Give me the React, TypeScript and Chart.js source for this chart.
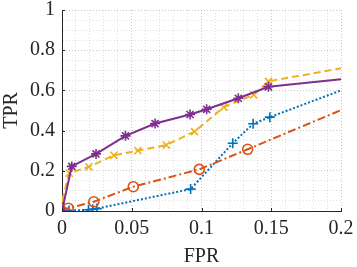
import React, { useEffect, useRef } from "react";
import { Chart, registerables } from "chart.js";

Chart.register(...registerables);

const xTickLabels = ["0", "0.05", "0.1", "0.15", "0.2"];
const yTickLabels = ["0", "0.2", "0.4", "0.6", "0.8", "1"];

const fprPurple = [0, 0.007, 0.0244, 0.0455, 0.0667, 0.0918, 0.1037, 0.1264, 0.148, 0.2];
const tprPurple = [0, 0.222, 0.284, 0.374, 0.435, 0.48, 0.506, 0.561, 0.618, 0.656];

const fprYellow = [0, 0, 0.0052, 0.0193, 0.0372, 0.0544, 0.0748, 0.095, 0.116, 0.1374, 0.148, 0.2];
const tprYellow = [0, 0.05, 0.188, 0.22, 0.277, 0.3, 0.328, 0.395, 0.517, 0.578, 0.645, 0.71];

const fprRed = [0, 0.0045, 0.0228, 0.0511, 0.0984, 0.1331, 0.2];
const tprRed = [0, 0.014, 0.046, 0.121, 0.207, 0.307, 0.502];

const fprBlue = [0, 0.005, 0.019, 0.022, 0.025, 0.0922, 0.1224, 0.137, 0.149, 0.2];
const tprBlue = [0, 0.002, 0.006, 0.009, 0.012, 0.109, 0.337, 0.434, 0.467, 0.6];

const FONT = "'Liberation Serif', 'Times New Roman', serif";
const AX = "#262626";

const pts = (xs: number[], ys: number[]) => xs.map((x, i) => ({ x, y: ys[i] }));

function ds(label: string, xs: number[], ys: number[], color: string, style: string, dash: number[]) {
  const last = xs.length - 1;
  return {
    label,
    data: pts(xs, ys),
    borderColor: color,
    backgroundColor: "rgba(0,0,0,0)",
    borderWidth: 2,
    borderDash: dash,
    pointStyle: style,
    pointRadius: (c: any) => (c.dataIndex === last ? 0 : 5),
    pointBorderColor: color,
    pointBackgroundColor: "rgba(0,0,0,0)",
    pointBorderWidth: 1.6,
    showLine: true,
    tension: 0,
  };
}

const inwardTicks = {
  id: "inwardTicks",
  afterDraw(chart: any) {
    const { ctx, chartArea, scales } = chart;
    ctx.save();
    ctx.strokeStyle = AX;
    ctx.lineWidth = 1;
    ctx.beginPath();
    xTickLabels.forEach((t) => {
      const px = Math.round(scales.x.getPixelForValue(parseFloat(t))) + 0.5;
      ctx.moveTo(px, chartArea.bottom);
      ctx.lineTo(px, chartArea.bottom - 3);
    });
    yTickLabels.forEach((t) => {
      const py = Math.round(scales.y.getPixelForValue(parseFloat(t))) + 0.5;
      ctx.moveTo(chartArea.left, py);
      ctx.lineTo(chartArea.left + 3, py);
    });
    ctx.stroke();
    ctx.restore();
  },
};

export default function App() {
  const ref = useRef<HTMLCanvasElement>(null);
  useEffect(() => {
    document.body.style.margin = "0";
    const isMajor = (v: number, step: number) => Math.abs(v / step - Math.round(v / step)) < 1e-6;
    const chart = new Chart(ref.current!, {
      type: "line",
      data: {
        datasets: [
          ds("Purple", fprPurple, tprPurple, "#7E2F8E", "star", []),
          ds("Yellow", fprYellow, tprYellow, "#EDB120", "crossRot", [7, 4]),
          ds("Red", fprRed, tprRed, "#D95319", "circle", [8, 3, 2, 3]),
          ds("Blue", fprBlue, tprBlue, "#0072BD", "cross", [2, 2]),
        ] as any,
      },
      plugins: [inwardTicks],
      options: {
        responsive: false,
        animation: false,
        layout: { padding: { top: 10, right: 16, left: 0, bottom: 0 } },
        plugins: { legend: { display: false }, tooltip: { enabled: false } },
        scales: {
          x: {
            type: "linear",
            min: 0,
            max: 0.2,
            afterFit: (s: any) => {
              s.height = 56;
              s.paddingLeft = 0;
              s.paddingRight = 16;
              s.paddingTop = 0;
              s.paddingBottom = 0;
            },
            ticks: {
              stepSize: 0.01,
              autoSkip: false,
              maxRotation: 0,
              padding: 6,
              color: AX,
              font: { family: FONT, size: 20 },
              callback: (v: any) => {
                const n = Number(v);
                if (!isMajor(n, 0.05)) return "";
                const idx = Math.round(n / 0.05);
                return xTickLabels[idx];
              },
            },
            grid: {
              drawTicks: false,
              lineWidth: 1,
              color: (c: any) => (isMajor(c.tick?.value ?? 0, 0.05) ? "rgba(0,0,0,0.22)" : "rgba(0,0,0,0.12)"),
            },
            border: { display: true, color: AX, width: 1, dash: [1, 2] },
            title: { display: true, text: "FPR", color: AX, font: { family: FONT, size: 20 }, padding: { top: 0, bottom: -2 } },
          },
          y: {
            type: "linear",
            min: 0,
            max: 1,
            afterFit: (s: any) => {
              s.width = 62;
              s.paddingTop = 10;
              s.paddingBottom = 0;
              s.paddingLeft = 0;
              s.paddingRight = 0;
            },
            ticks: {
              stepSize: 0.05,
              autoSkip: false,
              padding: 7,
              color: AX,
              font: { family: FONT, size: 20 },
              callback: (v: any) => {
                const n = Number(v);
                if (!isMajor(n, 0.2)) return "";
                return yTickLabels[Math.round(n / 0.2)];
              },
            },
            grid: {
              drawTicks: false,
              lineWidth: 1,
              color: (c: any) => (isMajor(c.tick?.value ?? 0, 0.2) ? "rgba(0,0,0,0.22)" : "rgba(0,0,0,0.12)"),
            },
            border: { display: true, color: AX, width: 1, dash: [1, 2] },
            title: { display: true, text: "TPR", color: AX, font: { family: FONT, size: 20 }, padding: { top: 0, bottom: 0 } },
          },
        },
      } as any,
    });
    return () => chart.destroy();
  }, []);
  return (
    <div style={{ position: "fixed", left: 0, top: 0, width: 357, height: 267 }}>
      <canvas ref={ref} width={357} height={267} style={{ width: 357, height: 267 }} />
    </div>
  );
}
